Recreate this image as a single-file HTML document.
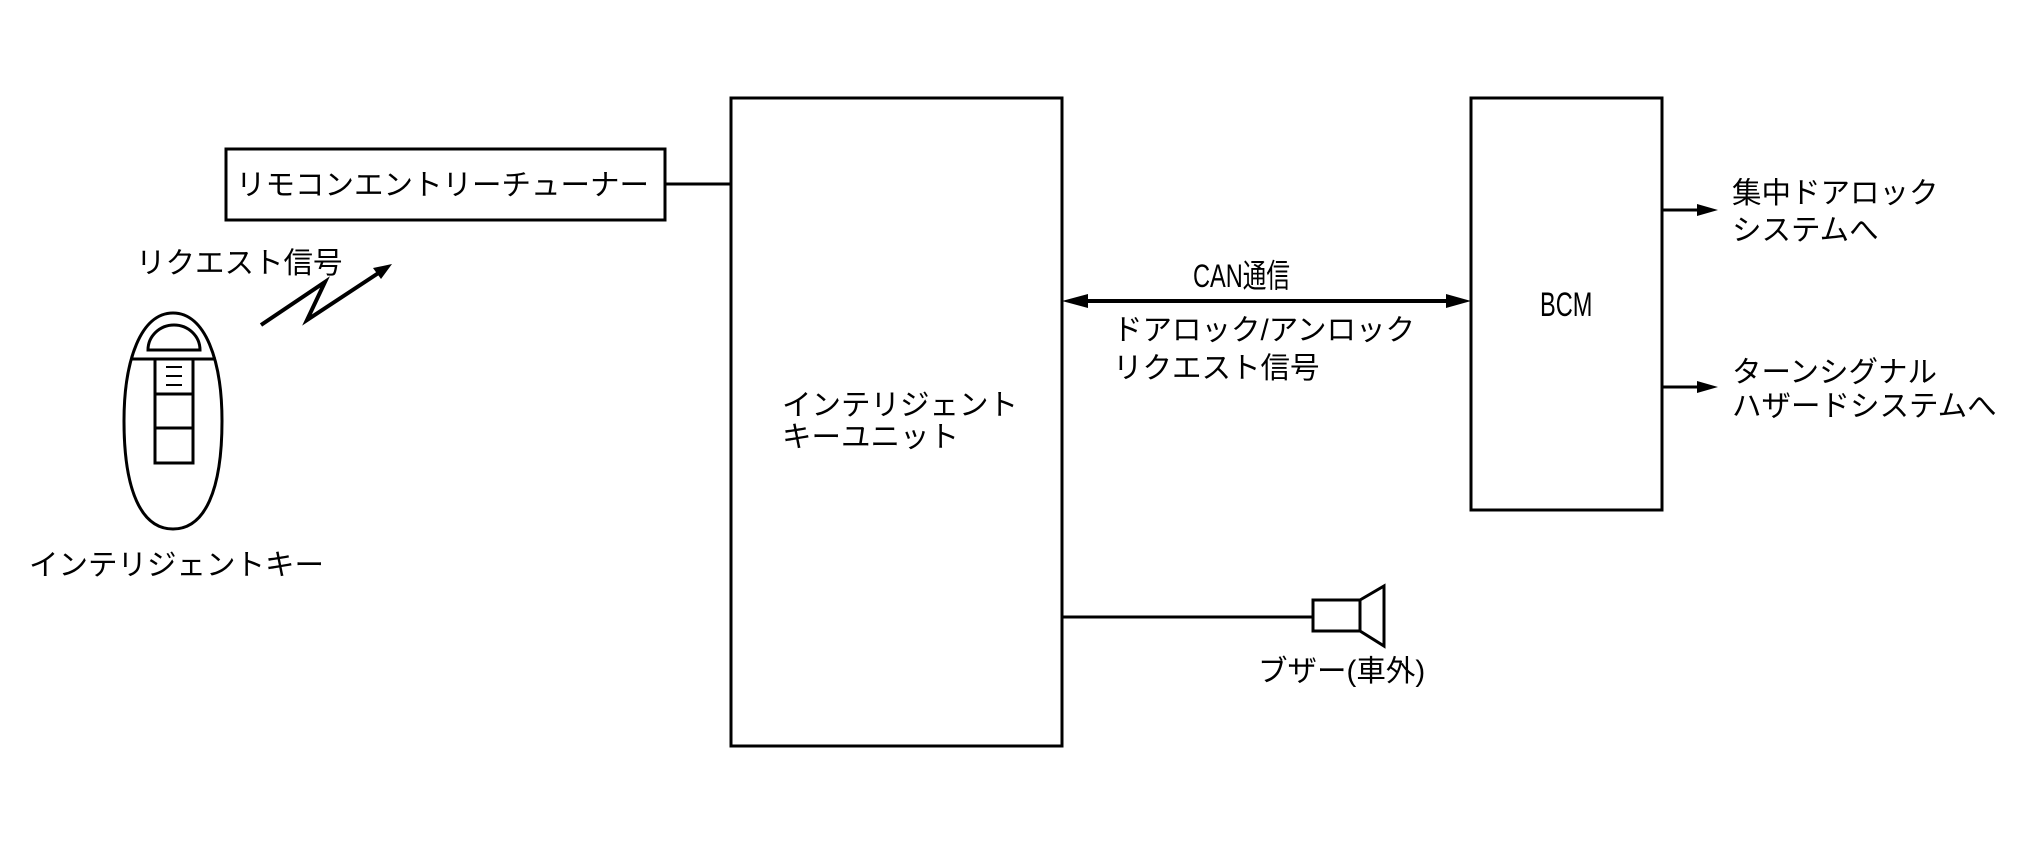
<!DOCTYPE html>
<html><head><meta charset="utf-8"><style>
html,body{margin:0;padding:0;background:#fff;}
svg text{font-family:"Liberation Sans","Noto Sans CJK JP",sans-serif;fill:#000;}
</style></head><body>
<svg width="2020" height="850" viewBox="0 0 2020 850" xmlns="http://www.w3.org/2000/svg">
<g fill="none" stroke="#000" stroke-width="3">
<rect x="226" y="149" width="439" height="71"/>
<line x1="665" y1="184" x2="731" y2="184"/>
<rect x="731" y="98" width="331" height="648"/>
<rect x="1471" y="98" width="191" height="412"/>
<line x1="1088" y1="301" x2="1446" y2="301" stroke-width="4"/>
<line x1="1662" y1="210" x2="1697" y2="210"/>
<line x1="1662" y1="387" x2="1697" y2="387"/>
<line x1="1062" y1="617" x2="1313" y2="617"/>
<rect x="1313" y="600" width="47" height="31"/>
<path d="M1360,600 L1384,586 L1384,646 L1360,631"/>
<path d="M173,313 C205,313 222,360 222,421 C222,490 205,529 173,529 C141,529 124,490 124,421 C124,360 141,313 173,313 Z"/>
<path d="M148,350 A26,25 0 0 1 200,350 Z"/>
<line x1="131" y1="359" x2="216" y2="359"/>
<rect x="155" y="359" width="38" height="104"/>
<line x1="155" y1="394" x2="193" y2="394"/>
<line x1="155" y1="428" x2="193" y2="428"/>
<line x1="166" y1="367" x2="182" y2="367" stroke-width="2"/>
<line x1="166" y1="376" x2="182" y2="376" stroke-width="2"/>
<line x1="166" y1="385" x2="182" y2="385" stroke-width="2"/>
<path d="M261,325 L325,282 L307,320 L380,272" stroke-width="4"/>
</g>
<path d="M1062,301 L1088,294 L1088,308 Z" fill="#000"/>
<path d="M1471,301 L1446,294 L1446,308 Z" fill="#000"/>
<path d="M1718,210 L1697,204 L1697,216 Z" fill="#000"/>
<path d="M1718,387 L1697,381 L1697,393 Z" fill="#000"/>
<path d="M392,264 L373,268 L381,279 Z" fill="#000"/>
<g font-size="29.5">
<text x="236" y="195">リモコンエントリーチューナー</text>
<text x="136" y="273">リクエスト信号</text>
<text x="29" y="575">インテリジェントキー</text>
<text x="782" y="415">インテリジェント</text>
<text x="782" y="447">キーユニット</text>
<text x="1113" y="340">ドアロック/アンロック</text>
<text x="1113" y="378">リクエスト信号</text>
<text x="1732" y="203">集中ドアロック</text>
<text x="1732" y="240">システムへ</text>
<text x="1732" y="382">ターンシグナル</text>
<text x="1732" y="416">ハザードシステムへ</text>
<text x="1258" y="681">ブザー(車外)</text>
<text transform="translate(1193,287) scale(0.8,1.1)">CAN通信</text>
<text transform="translate(1540,316) scale(0.8,1.15)">BCM</text>
</g>
</svg>
</body></html>
